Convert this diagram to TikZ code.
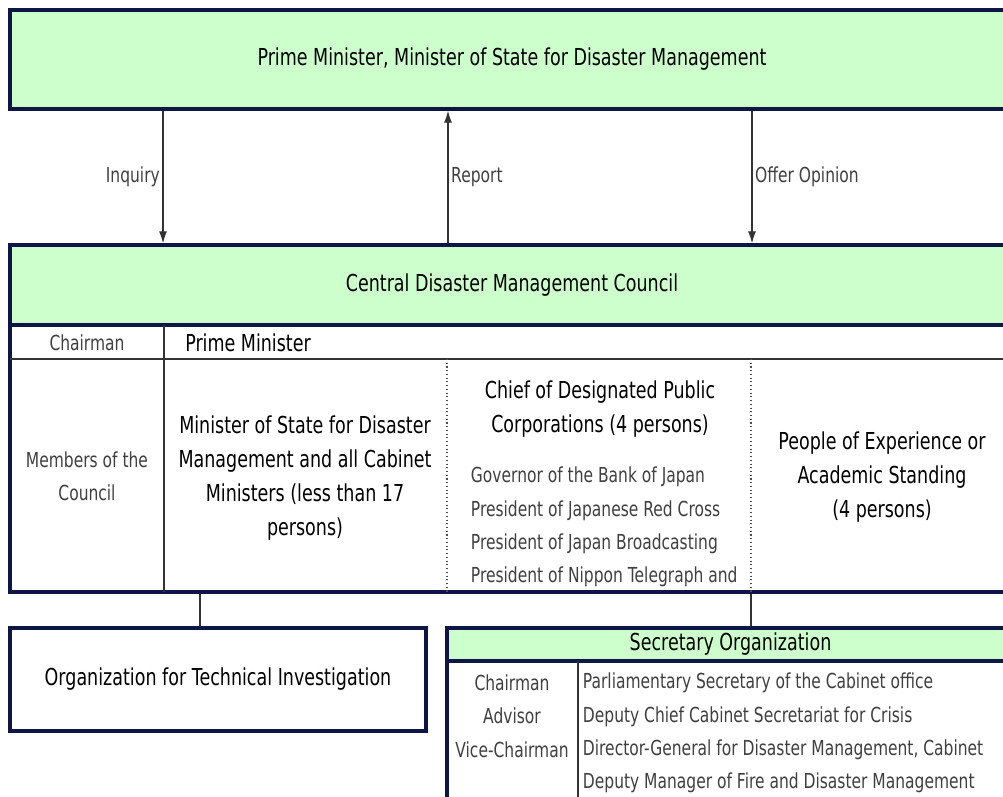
\documentclass[tikz,border=0pt]{standalone}
\usepackage{fontspec}
\setmainfont{DejaVu Sans}[FakeStretch=0.75]
\usetikzlibrary{fit,arrows.meta}

\definecolor{boxgreen}{RGB}{204,255,204}
\definecolor{framenavy}{RGB}{14,22,70}

\tikzset{
    frame/.style={draw=framenavy, line width=2.6pt, inner sep=0pt},
    rule/.style={draw=black!80, line width=0.8pt},
    dots/.style={draw=black!70, line width=0.8pt, dotted},
    main/.style={font=\fontsize{17.5}{25.5}\selectfont, align=center, inner sep=0pt},
    light/.style={font=\fontsize{15.5}{25}\selectfont, text=black!75, inner sep=2pt}
}

\begin{document}
\begin{tikzpicture}[x=0.75pt,y=-0.75pt, >={Latex[length=9pt,width=6pt]}]
        \useasboundingbox (0,0) rectangle (1003,796);
        \clip (0,0) rectangle (1003,796);
        \fill[white] (0,0) rectangle (1003,796);

        \node[frame, fill=boxgreen, fit={(10,10) (1014,109)}] (pm) {};
        \node[main] (pmtext) at (pm.center) {Prime Minister, Minister of State for Disaster Management};

        \node[frame, fit={(10,325) (1014,592)}] (members) {};
        \node[frame, fill=boxgreen, fit={(10,245) (1014,325)}] (council) {};
        \node[main] (counciltext) at (council.center) {Central Disaster Management Council};
        \draw[rule] (10,359) -- (1014,359);
        \draw[rule] (164,325) -- (164,592);
        \draw[dots] (447,359) -- (447,592);
        \draw[dots] (751,359) -- (751,592);

        \coordinate (inq) at (163,0);
        \coordinate (rep) at (448,0);
        \coordinate (opi) at (752,0);
        \draw[rule,->] (pm.south -| inq) -- (council.north -| inq) node[light, midway, left] {Inquiry};
        \draw[rule,->] (council.north -| rep) -- (pm.south -| rep) node[light, midway, right] {Report};
        \draw[rule,->] (pm.south -| opi) -- (council.north -| opi) node[light, midway, right] {Offer Opinion};

        \node[light] (chairlbl) at (87,343) {Chairman};
        \node[main, anchor=west] (chairpm) at (185,343) {Prime Minister};
        \node[light, align=center] (memberslbl) at (87,476) {Members of the\\Council};
        \node[main] (ministers) at (305,478) {Minister of State for Disaster\\Management and all Cabinet\\Ministers (less than 17\\persons)};
        \node[main] (chiefs) at (600,409) {Chief of Designated Public\\Corporations (4 persons)};
        \node[light, align=left, anchor=west] (corplist) at (468,527) {Governor of the Bank of Japan\\President of Japanese Red Cross\\President of Japan Broadcasting\\President of Nippon Telegraph and};
        \node[main] (people) at (882,477) {People of Experience or\\Academic Standing\\(4 persons)};

        \node[frame, fit={(10,628) (426,731)}] (tech) {};
        \node[main] (techtext) at (tech.center) {Organization for Technical Investigation};

        \node[frame, fit={(447,661) (1014,830)}] (secbody) {};
        \node[frame, fill=boxgreen, fit={(447,628) (1014,661)}] (sechead) {};
        \node[main] (sectitle) at (sechead.center) {Secretary Organization};
        \draw[rule] (578,661) -- (578,830);
        \node[light, align=center] (secroles) at (512,716) {Chairman\\Advisor\\Vice-Chairman};
        \node[light, align=left, anchor=west] (secnames) at (580,733) {Parliamentary Secretary of the Cabinet office\\Deputy Chief Cabinet Secretariat for Crisis\\Director-General for Disaster Management, Cabinet\\Deputy Manager of Fire and Disaster Management};

        \coordinate (techlink) at (200,0);
        \coordinate (seclink) at (751,0);
        \draw[rule] (members.south -| techlink) -- (tech.north -| techlink);
        \draw[rule] (members.south -| seclink) -- (sechead.north -| seclink);
\end{tikzpicture}
\end{document}
